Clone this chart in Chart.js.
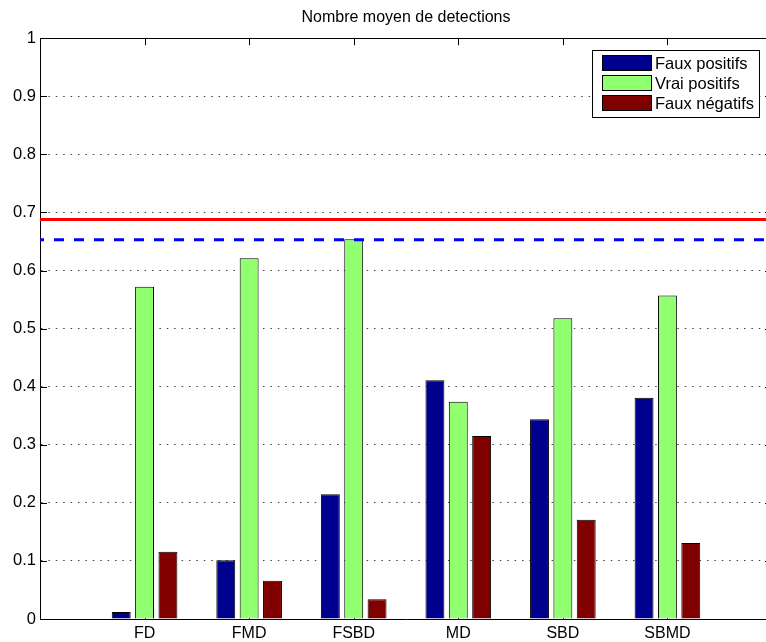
<!DOCTYPE html>
<html>
<head>
<meta charset="utf-8">
<script src="https://cdn.jsdelivr.net/npm/chart.js@4.4.0/dist/chart.umd.min.js"></script>
<style>
  html, body { margin: 0; padding: 0; background: #fff; overflow: hidden; }
  #wrap { width: 777px; height: 642px; }
</style>
</head>
<body>
<div id="wrap"><canvas id="myChart" width="777" height="642"></canvas></div>
<script>
var categories = ['FD', 'FMD', 'FSBD', 'MD', 'SBD', 'SBMD'];
var fauxPositifs = [0.012, 0.101, 0.215, 0.411, 0.344, 0.381];
var vraiPositifs = [0.572, 0.621, 0.654, 0.374, 0.518, 0.557];
var fauxNegatifs = [0.116, 0.066, 0.034, 0.315, 0.171, 0.131];
var seuilRouge = 0.688;
var seuilBleu = 0.653;
var yTicks = [0, 0.1, 0.2, 0.3, 0.4, 0.5, 0.6, 0.7, 0.8, 0.9, 1];

// one empty slot each side, like xlim [0 7] in matlab
var labels = [''].concat(categories, ['']);
function pad(arr) { return [null].concat(arr, [null]); }
function flat(v) { return labels.map(() => v); }

Chart.defaults.font.family = "'Liberation Sans', Arial, sans-serif";
Chart.defaults.font.size = 16;
Chart.defaults.color = '#000';

// box ticks, top border and the legend, matlab style
var matlabAxes = {
    id: 'matlabAxes',
    beforeDatasetsDraw(chart) {
        const ctx = chart.ctx, a = chart.chartArea;
        const x = chart.scales.x, y = chart.scales.y;
        ctx.save();
        ctx.strokeStyle = '#000';
        ctx.lineWidth = 1;
        ctx.beginPath();
        y.ticks.forEach(t => {
            const py = Math.round(y.getPixelForValue(t.value)) + 0.5;
            ctx.moveTo(a.left, py); ctx.lineTo(a.left + 7, py);
            ctx.moveTo(a.right, py); ctx.lineTo(a.right - 7, py);
        });
        categories.forEach((c, i) => {
            const px = Math.round(x.getPixelForValue(i + 1)) + 0.5;
            ctx.moveTo(px, a.top); ctx.lineTo(px, a.top + 7);
            ctx.moveTo(px, a.bottom); ctx.lineTo(px, a.bottom - 7);
        });
        ctx.stroke();
        ctx.restore();
    },
    afterDraw(chart) {
        const ctx = chart.ctx, a = chart.chartArea;
        ctx.save();
        ctx.strokeStyle = '#000';
        ctx.lineWidth = 1;
        ctx.beginPath();
        ctx.moveTo(a.left, Math.round(a.top) + 0.5);
        ctx.lineTo(a.right, Math.round(a.top) + 0.5);
        ctx.stroke();

        // legend
        const bars = chart.data.datasets.filter(d => d.type !== 'line');
        const bx = 592.5, by = 50.5, bw = 167, bh = 67;
        ctx.fillStyle = '#fff';
        ctx.fillRect(bx, by, bw, bh);
        ctx.strokeRect(bx, by, bw, bh);
        ctx.font = "16.5px 'Liberation Sans', Arial, sans-serif";
        ctx.textBaseline = 'middle';
        bars.forEach((d, i) => {
            const cy = 63 + i * 20;
            ctx.fillStyle = d.backgroundColor;
            ctx.fillRect(602.5, cy - 7.5, 49, 15);
            ctx.strokeRect(602.5, cy - 7.5, 49, 15);
            ctx.fillStyle = '#000';
            ctx.fillText(d.label, 655, cy + 1);
        });
        ctx.restore();
    }
};

var ctx = document.getElementById('myChart').getContext('2d');
var myChart = new Chart(ctx, {
    type: 'bar',
    data: {
        labels: labels,
        datasets: [{
            label: 'Faux positifs',
            data: pad(fauxPositifs),
            backgroundColor: '#00008f',
            borderColor: '#000',
            borderWidth: 1
        }, {
            label: 'Vrai positifs',
            data: pad(vraiPositifs),
            backgroundColor: '#90ff70',
            borderColor: '#000',
            borderWidth: 1
        }, {
            label: 'Faux négatifs',
            data: pad(fauxNegatifs),
            backgroundColor: '#800000',
            borderColor: '#000',
            borderWidth: 1
        }, {
            type: 'line',
            label: 'seuil rouge',
            data: flat(seuilRouge),
            borderColor: '#ff0000',
            borderWidth: 3,
            pointRadius: 0,
            order: -1
        }, {
            type: 'line',
            label: 'seuil bleu',
            data: flat(seuilBleu),
            borderColor: '#0000ff',
            borderWidth: 3,
            borderDash: [10, 10],
            borderDashOffset: 6,
            pointRadius: 0,
            order: -1
        }]
    },
    options: {
        responsive: false,
        maintainAspectRatio: false,
        animation: false,
        categoryPercentage: 0.67,
        barPercentage: 0.81,
        layout: { padding: 0 },
        plugins: {
            legend: { display: false },
            tooltip: { enabled: false },
            title: {
                display: true,
                text: 'Nombre moyen de detections',
                fullSize: false,
                color: '#000',
                font: { size: 16, weight: 'normal' },
                padding: { top: 8, bottom: 11 }
            }
        },
        scales: {
            x: {
                offset: false,
                grid: { drawOnChartArea: false, drawTicks: false },
                border: { display: true, color: '#000', width: 1 },
                ticks: { padding: 5, autoSkip: false, maxRotation: 0 },
                afterFit: s => { s.height = 23; }
            },
            y: {
                min: 0,
                max: 1,
                afterBuildTicks: s => { s.ticks = yTicks.map(v => ({ value: v })); },
                grid: { color: '#444', lineWidth: 1, drawTicks: false, borderDash: [1.5, 5.9] },
                border: { display: true, color: '#000', width: 1, dash: [1.5, 5.9] },
                ticks: { padding: 4, font: { size: 16.5 }, callback: v => String(Math.round(v * 10) / 10) },
                afterFit: s => { s.width = 40; }
            }
        }
    },
    plugins: [matlabAxes]
});
</script>
</body>
</html>
